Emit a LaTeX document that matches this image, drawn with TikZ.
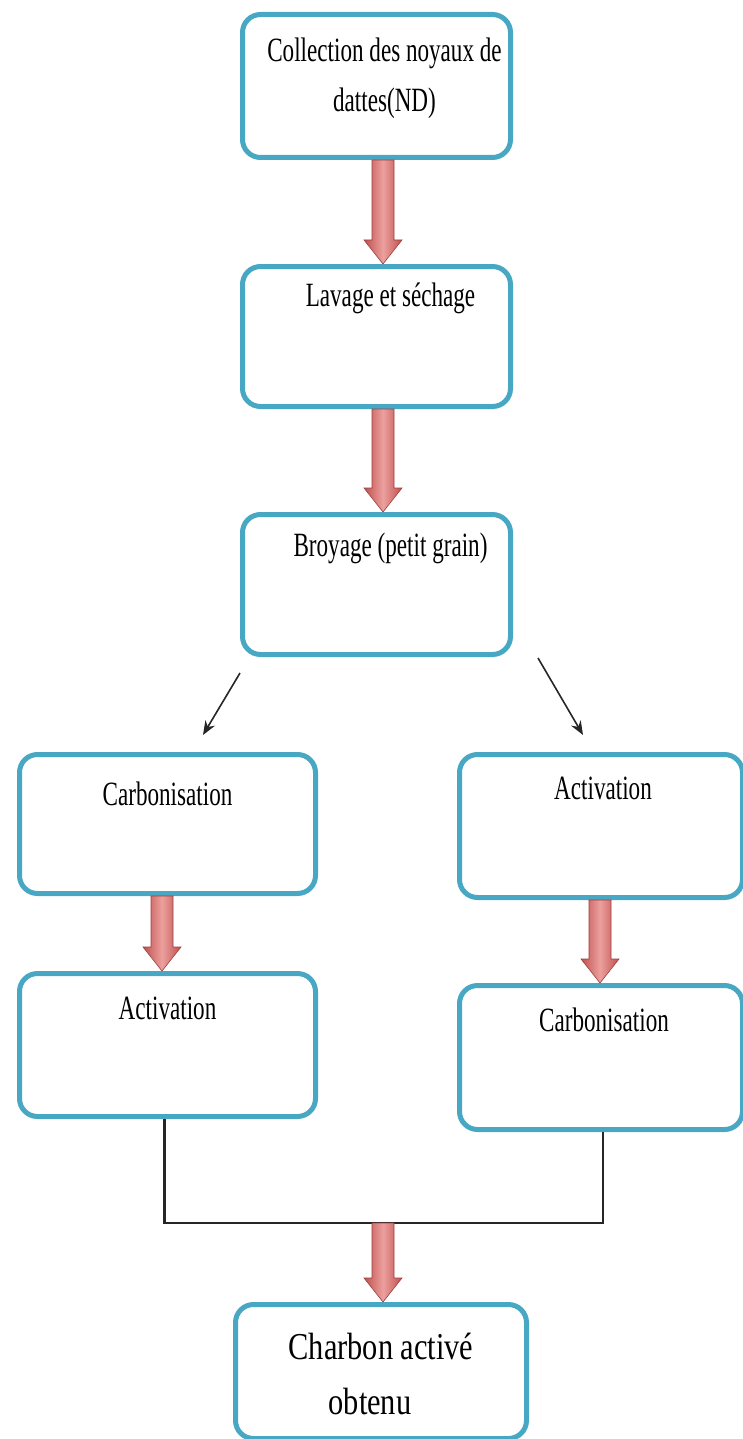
\documentclass[tikz,border=0pt]{standalone}
\usepackage{fontspec}
\usepackage{xcolor}
\usetikzlibrary{arrows.meta,calc}
\newfontfamily\boxfont{Liberation Serif}[FakeStretch=0.68]
\newfontfamily\endfont{Liberation Serif}[FakeStretch=0.8]
\definecolor{boxline}{RGB}{72,168,196}
\definecolor{arrowdark}{RGB}{192,80,77}
\definecolor{arrowlight}{RGB}{236,160,158}

% big red arrow between two points (same x)
\newcommand{\fatarrow}[2]{%
  \path (#1) coordinate (fs) (#2) coordinate (ft);
  \shade[fatarrow] ($(fs)+(-11,0)$) -- ($(ft)+(-11,-24)$) -- ($(ft)+(-19,-24)$) -- (ft)
    -- ($(ft)+(19,-24)$) -- ($(ft)+(11,-24)$) -- ($(fs)+(11,0)$) -- cycle;
}

\begin{document}
\begin{tikzpicture}[
    x=1pt, y=-1pt,
    box/.style={rectangle, draw=boxline, line width=5pt, rounded corners=18pt, fill=white, anchor=north west, inner sep=0pt},
    boxtext/.style={anchor=north, inner sep=0pt, align=center, font=\boxfont\fontsize{34}{50}\selectfont},
    fatarrow/.style={left color=arrowdark, right color=arrowdark, middle color=arrowlight, draw=arrowdark!80!black, line width=0.6pt},
    link/.style={draw=black!85, line width=2.2pt},
    thinarrow/.style={->, >={Stealth[length=14pt,width=11pt]}, line width=1.6pt, black!85}
]
    \useasboundingbox (0,0) rectangle (742,1439);

    \node[box, minimum width=268pt, minimum height=143pt,
          label={[boxtext, yshift=-26pt, xshift=8pt]north:{Collection des noyaux de\\dattes(ND)}}] (collect) at (240,12) {};
    \node[box, minimum width=268pt, minimum height=140pt,
          label={[boxtext, yshift=-19pt, xshift=14pt]north:{Lavage et séchage}}] (lavage) at (240,264) {};
    \node[box, minimum width=268pt, minimum height=140pt,
          label={[boxtext, yshift=-21pt, xshift=14pt]north:{Broyage (petit grain)}}] (broyage) at (240,512) {};

    \node[box, minimum width=296pt, minimum height=139pt,
          label={[boxtext, yshift=-30pt]north:{Carbonisation}}] (carbA) at (17,752) {};
    \node[box, minimum width=296pt, minimum height=143pt,
          label={[boxtext, yshift=-26pt]north:{Activation}}] (actA) at (17,971) {};

    \node[box, minimum width=283pt, minimum height=143pt,
          label={[boxtext, yshift=-25pt, xshift=2pt]north:{Activation}}] (actB) at (457,752) {};
    \node[box, minimum width=283pt, minimum height=144pt,
          label={[boxtext, yshift=-25pt, xshift=3pt]north:{Carbonisation}}] (carbB) at (457,983) {};

    \node[box, minimum width=291pt, minimum height=134pt,
          label={[boxtext, yshift=-31pt, font=\endfont\fontsize{38}{55}\selectfont]north:{Charbon activé\\obtenu\hspace*{22pt}}}] (charbon) at (233,1302) {};

    % split after grinding
    \draw[thinarrow] ($(broyage.south west)+(0,16)$) -- ($(carbA.north east)+(-115,-17)$);
    \draw[thinarrow] ($(broyage.south east)+(25,1)$) -- ($(actB.north west)+(126,-17)$);

    % both ways join
    \coordinate (join) at (383,1223);
    \draw[link] ($(actA.south)+(-3,0)$) -- ($(actA.south |- join)+(-3,0)$) -| ($(carbB.south)+(2,0)$);

    \fatarrow{383,0 |- collect.south}{383,0 |- lavage.north}
    \fatarrow{383,0 |- lavage.south}{383,0 |- broyage.north}
    \fatarrow{162,0 |- carbA.south}{162,0 |- actA.north}
    \fatarrow{600,0 |- actB.south}{600,0 |- carbB.north}
    \fatarrow{join}{join |- charbon.north}
\end{tikzpicture}
\end{document}
